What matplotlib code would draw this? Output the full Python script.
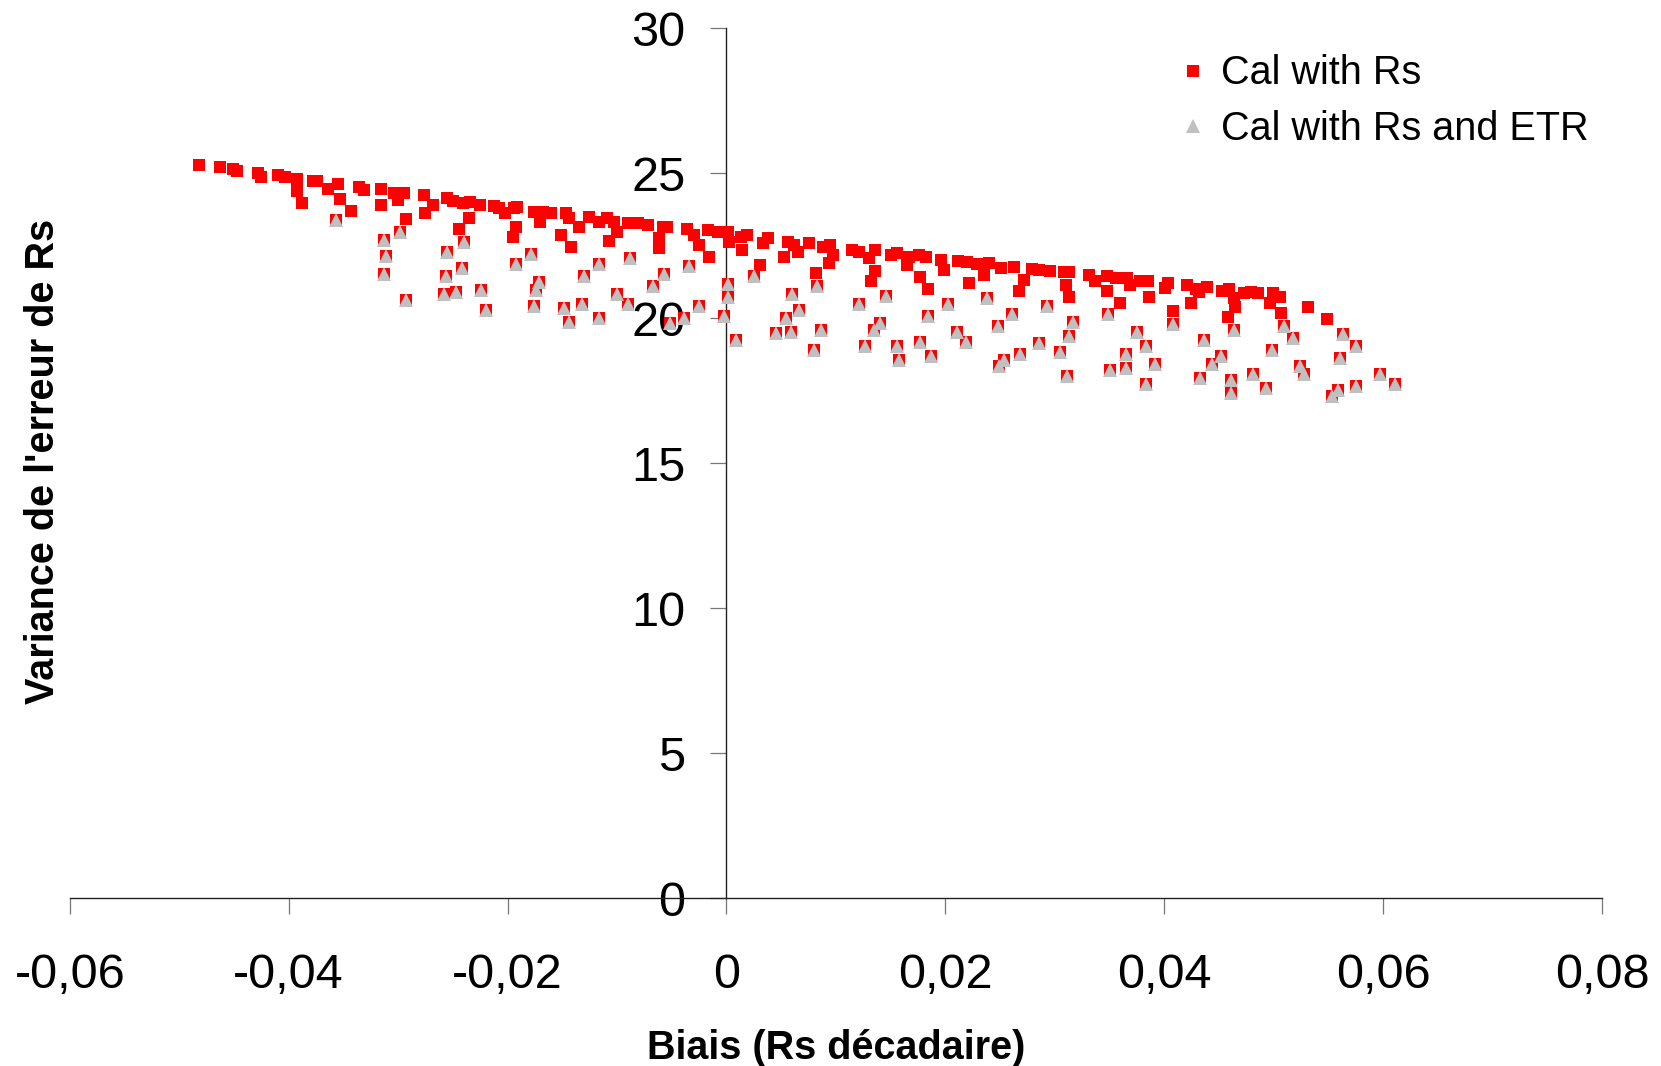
import matplotlib
matplotlib.use("Agg")
import matplotlib.pyplot as plt
import matplotlib.ticker as ticker

plt.rcParams["font.family"] = ["Liberation Sans", "DejaVu Sans"]

# Calibrations with Rs only (points not repeated in the ETR series)
rs_only_bias = [
    -0.0482, -0.0463, -0.0451, -0.0447, -0.0428, -0.0425, -0.0410, -0.0403,
    -0.0392, -0.0392, -0.0388, -0.0378, -0.0374, -0.0364, -0.0355, -0.0353,
    -0.0343, -0.0336, -0.0331, -0.0316, -0.0316, -0.0304, -0.0295, -0.0300,
    -0.0293, -0.0276, -0.0268, -0.0275, -0.0255, -0.0250, -0.0241, -0.0234,
    -0.0225, -0.0235, -0.0244, -0.0212, -0.0208, -0.0202, -0.0194, -0.0191,
    -0.0192, -0.0195, -0.0176, -0.0168, -0.0160, -0.0170, -0.0151, -0.0142,
    -0.0147, -0.0144, -0.0135, -0.0126, -0.0116, -0.0109, -0.0103, -0.0100,
    -0.0107, -0.0090, -0.0081, -0.0072, -0.0058, -0.0054, -0.0062, -0.0062,
    -0.0036, -0.0030, -0.0025, -0.0016, -0.0017, -0.0008, 0.0001, 0.0002,
    0.0013, 0.0019, 0.0014, 0.0033, 0.0038, 0.0031, 0.0056, 0.0062,
    0.0053, 0.0065, 0.0075, 0.0082, 0.0088, 0.0095, 0.0097, 0.0094,
    0.0115, 0.0121, 0.0130, 0.0136, 0.0136, 0.0132, 0.0150, 0.0156,
    0.0167, 0.0165, 0.0176, 0.0182, 0.0177, 0.0184, 0.0196, 0.0199,
    0.0212, 0.0220, 0.0222, 0.0229, 0.0235, 0.0240, 0.0251, 0.0263,
    0.0272, 0.0267, 0.0279, 0.0286, 0.0296, 0.0308, 0.0313, 0.0310,
    0.0313, 0.0331, 0.0337, 0.0348, 0.0356, 0.0348, 0.0360, 0.0366,
    0.0369, 0.0378, 0.0385, 0.0386, 0.0403, 0.0401, 0.0408, 0.0421,
    0.0429, 0.0424, 0.0439, 0.0432, 0.0453, 0.0459, 0.0464, 0.0465,
    0.0458, 0.0473, 0.0479, 0.0486, 0.0499, 0.0506, 0.0497, 0.0507,
    0.0531, 0.0549,
]
rs_only_var = [
    25.29, 25.23, 25.14, 25.08, 25.02, 24.88, 24.95, 24.88,
    24.79, 24.40, 23.99, 24.74, 24.74, 24.45, 24.62, 24.11,
    23.71, 24.54, 24.42, 24.45, 23.91, 24.33, 24.33, 24.08,
    23.42, 24.25, 23.91, 23.62, 24.14, 24.04, 23.97, 24.02,
    23.91, 23.45, 23.07, 23.88, 23.79, 23.62, 23.79, 23.85,
    23.16, 22.81, 23.68, 23.68, 23.64, 23.33, 22.87, 22.47,
    23.62, 23.45, 23.16, 23.50, 23.33, 23.45, 23.33, 22.99,
    22.67, 23.28, 23.30, 23.22, 23.16, 23.16, 22.76, 22.41,
    23.07, 22.87, 22.53, 22.12, 23.04, 22.99, 22.99, 22.64,
    22.81, 22.87, 22.36, 22.59, 22.76, 21.84, 22.64, 22.53,
    22.12, 22.30, 22.61, 21.57, 22.47, 22.53, 22.18, 21.90,
    22.36, 22.30, 22.07, 22.36, 21.63, 21.30, 22.18, 22.26,
    22.12, 21.84, 22.18, 22.12, 21.43, 21.01, 22.01, 21.67,
    21.99, 21.95, 21.23, 21.87, 21.49, 21.90, 21.72, 21.78,
    21.32, 20.94, 21.69, 21.67, 21.63, 21.59, 21.59, 21.15,
    20.72, 21.49, 21.30, 21.46, 21.38, 20.95, 20.54, 21.38,
    21.15, 21.30, 21.30, 20.74, 21.23, 21.03, 20.25, 21.15,
    21.00, 20.54, 21.09, 20.92, 20.94, 21.00, 20.69, 20.40,
    20.03, 20.86, 20.92, 20.86, 20.88, 20.74, 20.52, 20.19,
    20.40, 19.98,
]

# Calibrations with Rs and ETR (also present in the Rs series)
etr_bias = [
    -0.0357, -0.0313, -0.0311, -0.0313, -0.0298, -0.0293, -0.0255, -0.0240,
    -0.0242, -0.0256, -0.0258, -0.0247, -0.0224, -0.0220, -0.0179, -0.0192,
    -0.0171, -0.0174, -0.0176, -0.0148, -0.0144, -0.0132, -0.0130, -0.0116,
    -0.0116, -0.0100, -0.0090, -0.0088, -0.0057, -0.0067, -0.0052, -0.0039,
    -0.0034, -0.0025, 0.0001, 0.0001, -0.0002, 0.0009, 0.0025, 0.0060,
    0.0054, 0.0045, 0.0059, 0.0066, 0.0083, 0.0086, 0.0080, 0.0121,
    0.0127, 0.0135, 0.0140, 0.0146, 0.0156, 0.0158, 0.0177, 0.0184,
    0.0187, 0.0202, 0.0211, 0.0219, 0.0238, 0.0248, 0.0249, 0.0254,
    0.0261, 0.0268, 0.0286, 0.0293, 0.0305, 0.0317, 0.0313, 0.0311,
    0.0349, 0.0375, 0.0383, 0.0365, 0.0365, 0.0350, 0.0392, 0.0383,
    0.0408, 0.0436, 0.0452, 0.0444, 0.0433, 0.0464, 0.0461, 0.0461,
    0.0481, 0.0493, 0.0498, 0.0509, 0.0518, 0.0524, 0.0528, 0.0553,
    0.0559, 0.0561, 0.0563, 0.0575, 0.0575, 0.0597, 0.0611,
]
etr_var = [
    23.39, 22.70, 22.16, 21.53, 22.97, 20.63, 22.28, 22.64,
    21.73, 21.47, 20.84, 20.92, 20.98, 20.29, 22.22, 21.86,
    21.26, 20.98, 20.42, 20.34, 19.86, 20.49, 21.46, 21.87,
    20.00, 20.84, 20.49, 22.09, 21.53, 21.11, 19.83, 20.00,
    21.80, 20.42, 21.18, 20.72, 20.08, 19.25, 21.46, 20.84,
    20.02, 19.48, 19.54, 20.29, 21.11, 19.60, 18.91, 20.48,
    19.04, 19.60, 19.85, 20.77, 19.04, 18.56, 19.19, 20.08,
    18.71, 20.49, 19.54, 19.17, 20.71, 19.73, 18.37, 18.56,
    20.15, 18.77, 19.14, 20.42, 18.85, 19.86, 19.39, 18.02,
    20.15, 19.54, 19.04, 18.77, 18.30, 18.22, 18.42, 17.73,
    19.80, 19.25, 18.71, 18.42, 17.95, 19.60, 17.87, 17.43,
    18.08, 17.61, 18.91, 19.73, 19.31, 18.37, 18.08, 17.32,
    17.53, 18.62, 19.46, 19.04, 17.68, 18.08, 17.73,
]

x_ticks = [-0.06, -0.04, -0.02, 0, 0.02, 0.04, 0.06, 0.08]
y_ticks = [0, 5, 10, 15, 20, 25, 30]

fig = plt.figure(figsize=(16.61, 10.66), dpi=100)
ax = fig.add_axes([0.042, 0.1573, 0.9225, 0.8162])

rs_bias = rs_only_bias + etr_bias
rs_var = rs_only_var + etr_var
ax.plot(rs_bias, rs_var, linestyle="none", marker="s", markersize=8,
        color="#ff0000", markeredgewidth=0, label="Cal with Rs", zorder=3)
ax.plot(etr_bias, etr_var, linestyle="none", marker="^", markersize=9.5,
        color="#c0c0c0", markeredgewidth=0, label="Cal with Rs and ETR", zorder=4)

ax.set_xlim(-0.06, 0.08)
ax.set_ylim(0, 30)
ax.set_xticks(x_ticks)
ax.set_yticks(y_ticks)
ax.xaxis.set_major_formatter(
    ticker.FuncFormatter(lambda v, _: ("%g" % v).replace(".", ",")))

ax.spines["top"].set_visible(False)
ax.spines["right"].set_visible(False)
ax.spines["left"].set_position(("data", 0))
for side in ("left", "bottom"):
    ax.spines[side].set_linewidth(1.0)
    ax.spines[side].set_color("#222222")

ax.tick_params(axis="both", direction="out", length=11.5, width=0.9,
               color="#777777", labelsize=35)
ax.tick_params(axis="x", pad=28)
ax.tick_params(axis="y", pad=18)

fig.text(0.5033, 0.0167, "Biais (Rs décadaire)", fontsize=28.5,
         fontweight="bold", ha="center", va="center")
fig.text(0.026, 0.5675, "Variance de l'erreur de Rs", fontsize=28.5,
         fontweight="bold", ha="center", va="center", rotation=90)

ax.legend(loc="upper left", bbox_to_anchor=(0.7086, 0.949),
          bbox_transform=fig.transFigure, frameon=False, fontsize=28.5,
          handlelength=0.8, handletextpad=0.3, labelspacing=0.44,
          borderpad=0, borderaxespad=0, numpoints=1)

fig.savefig("out.png", dpi=100)
